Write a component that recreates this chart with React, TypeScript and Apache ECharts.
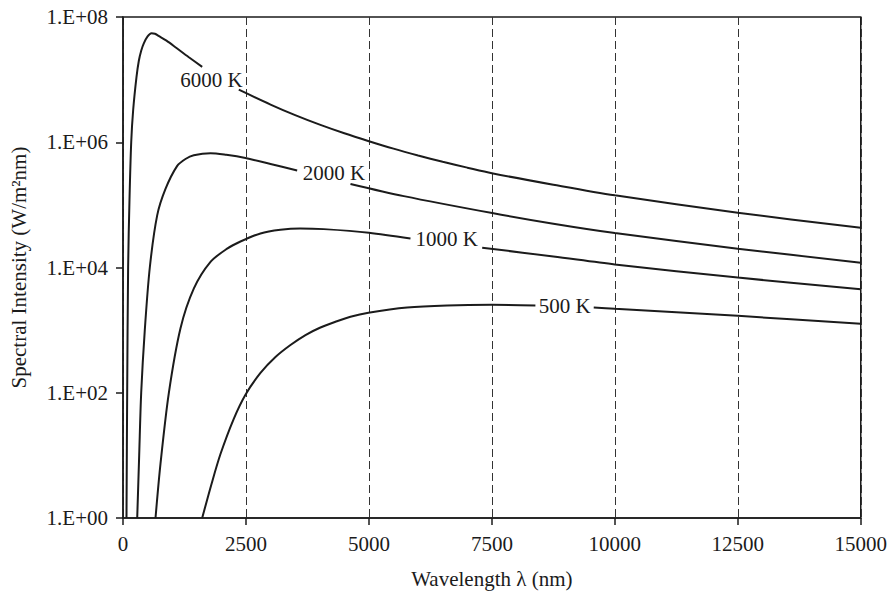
import React, { useEffect, useRef } from "react";
import * as echarts from "echarts";

// Blackbody spectral intensity curves, read as [wavelength nm, W/m²nm].
// "-" marks the break in each curve where its temperature label sits.
const curve6000K: [number, number | string][] = [
  [71, 1], [85, 100], [104, 1e4], [132, 1.2e5], [167, 1e6], [207, 3.3e6],
  [274, 1.1e7], [322, 2e7], [370, 2.9e7], [423, 3.8e7], [500, 4.9e7],
  [579, 5.5e7], [650, 5.4e7], [722, 5e7], [884, 4.2e7], [1088, 3.2e7],
  [1332, 2.3e7], [1610, 1.6e7], [1950, "-"], [2354, 6.9e6], [3000, 4e6],
  [3500, 2.71e6], [4000, 1.91e6], [4500, 1.39e6], [5000, 1.04e6],
  [5500, 7.9e5], [6000, 6.15e5], [6500, 4.87e5], [7000, 3.93e5],
  [7500, 3.2e5], [8750, 2.1e5], [10000, 1.42e5], [12500, 7.5e4],
  [15000, 4.3e4],
];

const curve2000K: [number, number | string][] = [
  [289, 1], [329, 10], [370, 100], [443, 1e3], [545, 1e4], [695, 6.8e4],
  [864, 1.8e5], [1102, 4.2e5], [1270, 5.4e5], [1439, 6.2e5], [1779, 6.7e5],
  [2100, 6.3e5], [2490, 5.6e5], [3000, 4.5e5], [3541, 3.55e5], [4050, "-"],
  [4625, 2.16e5], [5709, 1.38e5], [7506, 7.4e4], [8750, 5e4],
  [10000, 3.55e4], [12500, 2e4], [15000, 1.19e4],
];

const curve1000K: [number, number | string][] = [
  [661, 1], [762, 7.3], [931, 98], [1169, 1.07e3], [1439, 4.6e3],
  [1779, 1.23e4], [2118, 2e4], [2388, 2.6e4], [2795, 3.5e4], [3200, 4e4],
  [3600, 4.2e4], [4082, 4.1e4], [5000, 3.6e4], [5845, 2.9e4], [6580, "-"],
  [7303, 2.07e4], [8750, 1.5e4], [10000, 1.12e4], [12500, 6.9e3],
  [15000, 4.5e3],
];

const curve500K: [number, number | string][] = [
  [1610, 1], [1800, 3.5], [1982, 10.5], [2250, 38], [2490, 93], [2795, 207],
  [3100, 372], [3405, 578], [3710, 834], [4015, 1.1e3], [4320, 1.36e3],
  [4625, 1.64e3], [4990, 1.9e3], [5777, 2.3e3], [6590, 2.48e3],
  [7500, 2.54e3], [8385, 2.48e3], [9000, "-"], [9571, 2.29e3],
  [10000, 2.19e3], [12500, 1.69e3], [15000, 1.26e3],
];

const curveNames = ["6000 K", "2000 K", "1000 K", "500 K"];
const curves = [curve6000K, curve2000K, curve1000K, curve500K];
// Where each temperature label is written on its curve.
const labelSpots: [number, number][] = [
  [1800, 1e7], [4290, 3.2e5], [6580, 2.8e4], [8980, 2.4e3],
];

const yTickLabels = ["1.E+00", "1.E+02", "1.E+04", "1.E+06", "1.E+08"];

const FONT = "'Liberation Serif', 'Times New Roman', serif";
const INK = "#1b1b1b";

export default function App() {
  const ref = useRef<HTMLDivElement>(null);

  useEffect(() => {
    document.body.style.margin = "0";
    const chart = echarts.init(ref.current!, null, { renderer: "svg" });

    const series = curves.map((data, i) => ({
      type: "line",
      name: curveNames[i],
      data,
      symbol: "none",
      showSymbol: false,
      smooth: 0.3,
      connectNulls: false,
      clip: true,
      lineStyle: { color: INK, width: 2 },
      markPoint: {
        symbol: "circle",
        symbolSize: 1,
        itemStyle: { color: "rgba(0,0,0,0)" },
        label: {
          show: true,
          position: "inside",
          formatter: curveNames[i],
          color: INK,
          fontFamily: FONT,
          fontSize: 21,
        },
        data: [{ coord: labelSpots[i] }],
      },
    }));

    chart.setOption({
      animation: false,
      backgroundColor: "#ffffff",
      grid: {
        left: 122,
        right: 29,
        top: 17,
        bottom: 73,
        show: true,
        borderColor: INK,
        borderWidth: 1.5,
      },
      xAxis: {
        type: "value",
        min: 0,
        max: 15000,
        interval: 2500,
        name: "Wavelength λ (nm)",
        nameLocation: "middle",
        nameGap: 50,
        nameTextStyle: { fontFamily: FONT, fontSize: 21, color: INK },
        axisLine: { show: true, onZero: false, lineStyle: { color: INK, width: 1.5 } },
        axisTick: { show: true, length: 7, lineStyle: { color: INK, width: 1.5 } },
        axisLabel: {
          margin: 15,
          fontFamily: FONT,
          fontSize: 21,
          color: INK,
          formatter: (v: number) => String(v),
        },
        splitLine: {
          show: true,
          lineStyle: { color: "#333", width: 1, type: [8, 4] },
        },
      },
      yAxis: {
        type: "log",
        logBase: 10,
        min: 1,
        max: 1e8,
        interval: 2,
        name: "Spectral Intensity (W/m²nm)",
        nameLocation: "middle",
        nameGap: 94,
        nameTextStyle: { fontFamily: FONT, fontSize: 21, color: INK },
        axisLine: { show: true, lineStyle: { color: INK, width: 1.5 } },
        axisTick: { show: true, length: 7, lineStyle: { color: INK, width: 1.5 } },
        axisLabel: {
          margin: 15,
          fontFamily: FONT,
          fontSize: 21,
          color: INK,
          formatter: (v: number) => {
            const e = Math.round(Math.log10(v));
            return e % 2 === 0 ? yTickLabels[e / 2] : "";
          },
        },
        splitLine: { show: false },
      },
      series,
    });

    return () => chart.dispose();
  }, []);

  return (
    <div ref={ref} style={{ width: 890, height: 594, overflow: "hidden" }} />
  );
}
